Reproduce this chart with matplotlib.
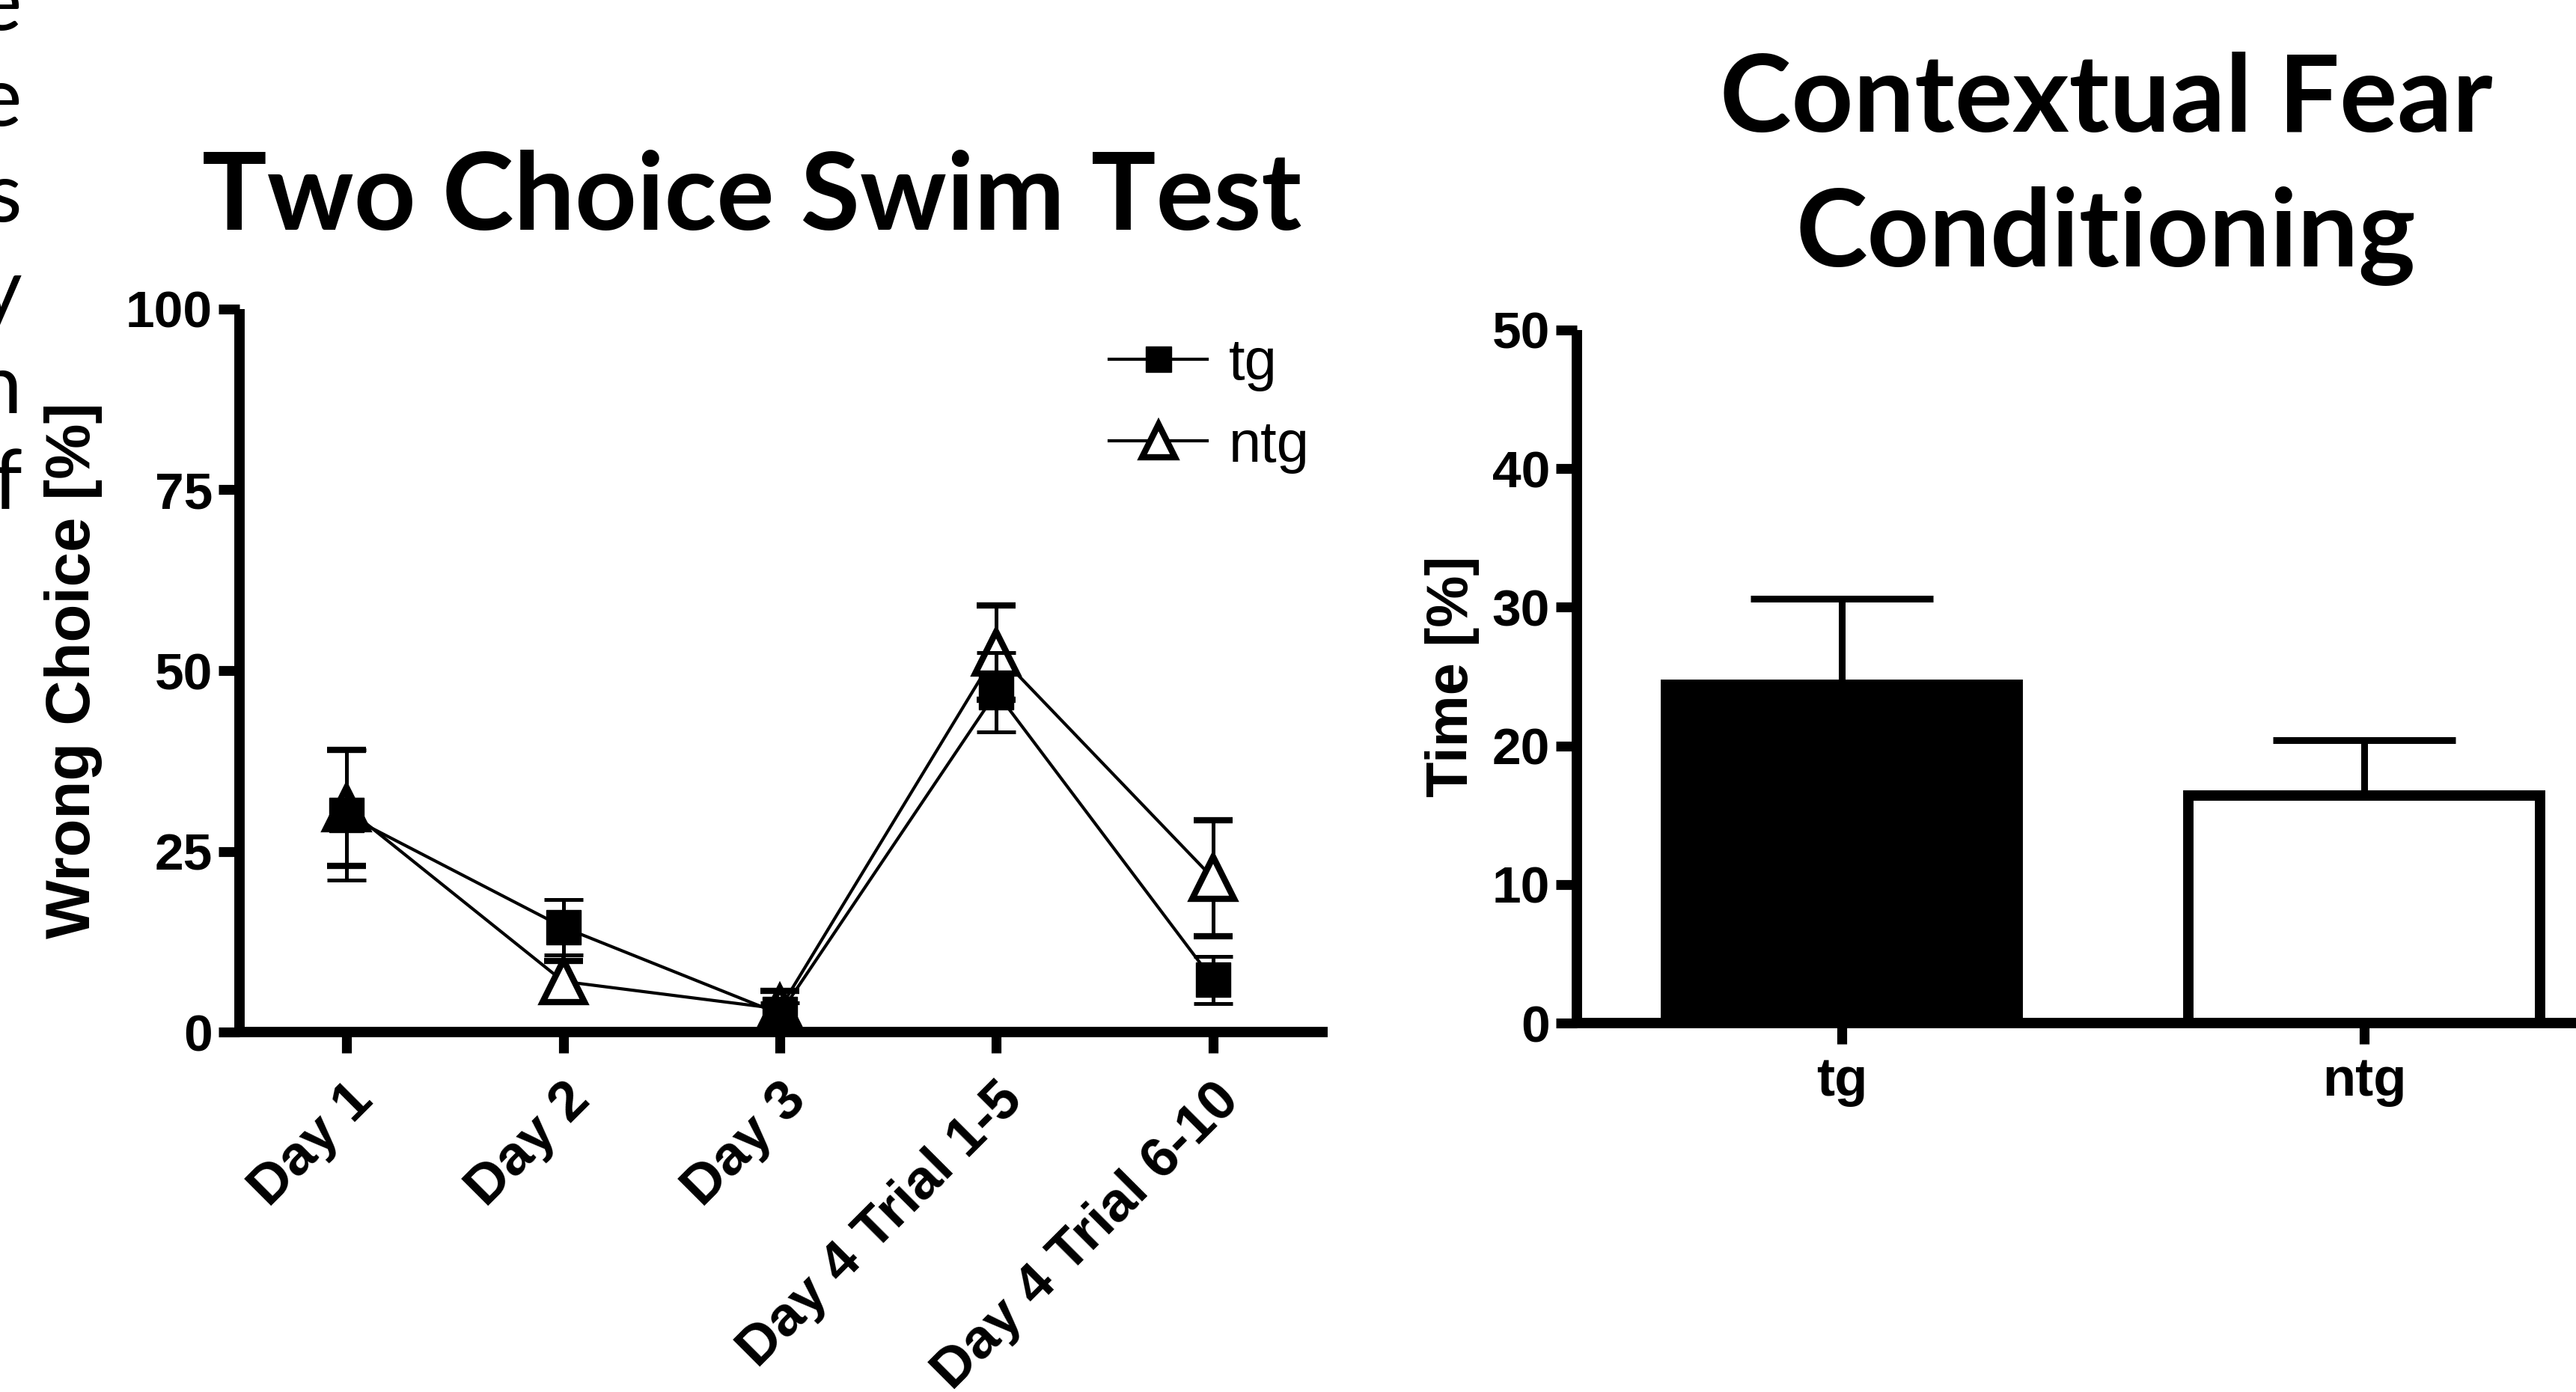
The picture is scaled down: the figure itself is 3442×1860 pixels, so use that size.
import matplotlib
matplotlib.use("Agg")
import matplotlib.pyplot as plt
from matplotlib.lines import Line2D

# ── Data ──
days = ["Day 1", "Day 2", "Day 3", "Day 4 Trial 1-5", "Day 4 Trial 6-10"]
tg_wrong = [30.0, 14.5, 2.5, 47.0, 7.2]
tg_sem = [9.0, 3.8, 1.5, 5.5, 3.3]
ntg_wrong = [31.0, 7.0, 3.2, 52.5, 21.3]
ntg_sem = [8.0, 2.8, 2.5, 6.5, 8.0]

groups = ["tg", "ntg"]
fear_time = [24.4, 16.4]
fear_sem = [6.2, 4.0]

# cut-off words from a neighbouring text column on the left edge
edge_words = ["the", "are", "was", "by", "in", "of"]

W, H = 3442, 1860
BOLD_SANS = ["Liberation Sans", "DejaVu Sans"]
TITLE_FONT = ["Lato", "DejaVu Sans"]
SPINE_W = 10
TICK_W = 9.5
LABEL_FS = 60

plt.rcParams["font.family"] = BOLD_SANS
fig = plt.figure(figsize=(W / 100, H / 100), dpi=100)


def style_axes(ax, xsize, ysize, xpad):
    for side in ("top", "right"):
        ax.spines[side].set_visible(False)
    for side in ("left", "bottom"):
        ax.spines[side].set_linewidth(SPINE_W)
        ax.spines[side].set_capstyle("butt")
    ax.tick_params(width=TICK_W, length=20)
    ax.tick_params(axis="y", labelsize=ysize, pad=6)
    ax.tick_params(axis="x", labelsize=xsize, pad=xpad)
    for lbl in ax.get_xticklabels() + ax.get_yticklabels():
        lbl.set_fontweight("bold")


# ── Left: Two Choice Swim Test ──
ax1 = fig.add_axes([320 / W, 1 - 1379 / H, (1774 - 320) / W, (1379 - 413) / H])
x = list(range(len(days)))
ax1.errorbar(x, ntg_wrong, yerr=ntg_sem, color="black", lw=3.0, elinewidth=3.6,
             capsize=19, capthick=3.6, marker="^", ms=40, mfc="white", mec="black",
             mew=6, clip_on=False, zorder=3, label="ntg")
ax1.errorbar(x, tg_wrong, yerr=tg_sem, color="black", lw=3.0, elinewidth=3.6,
             capsize=19, capthick=3.6, marker="s", ms=33, mfc="black", mec="black",
             clip_on=False, zorder=4, label="tg")
ax1.set_xlim(-0.495, 4.53)
ax1.set_ylim(0, 100)
ax1.set_yticks([0, 25, 50, 75, 100])
ax1.set_xticks(x)
ax1.set_xticklabels(days, rotation=45, ha="right", rotation_mode="anchor")
ax1.set_ylabel("Wrong Choice [%]", fontsize=LABEL_FS, fontweight="bold", labelpad=22)
style_axes(ax1, 54, 50, 20)

handles = [
    Line2D([], [], color="black", lw=3.0, marker="s", ms=25, mfc="black"),
    Line2D([], [], color="black", lw=3.0, marker="^", ms=31, mfc="white", mew=6),
]
fig.legend(handles, groups, loc="upper left",
           bbox_to_anchor=(1482 / W, 1 - 450 / H), bbox_transform=fig.transFigure,
           frameon=False, borderpad=0, borderaxespad=0, handlelength=1.69,
           handletextpad=0.37, labelspacing=0.47,
           prop={"family": BOLD_SANS, "size": 56})

fig.text(1005 / W, 1 - 307 / H, "Two Choice Swim Test", ha="center", va="baseline",
         fontsize=104, fontweight="bold", family=TITLE_FONT)

# ── Right: Contextual Fear Conditioning ──
ax2 = fig.add_axes([2107 / W, 1 - 1367 / H, 1 - 2107 / W, (1367 - 441) / H])
xb = list(range(len(groups)))
ax2.bar(xb, fear_time, width=0.673, color=["black", "white"], edgecolor="black",
        linewidth=10, zorder=2)
ax2.errorbar(xb, fear_time, yerr=[[0, 0], fear_sem], fmt="none", ecolor="black",
             elinewidth=6.5, capsize=88, capthick=6.5, zorder=3)
ax2.set_xlim(-0.507, 1.405)
ax2.set_ylim(0, 50)
ax2.set_yticks([0, 10, 20, 30, 40, 50])
ax2.set_xticks(xb)
ax2.set_xticklabels(groups)
ax2.set_ylabel("Time [%]", fontsize=56, fontweight="bold", labelpad=12)
style_axes(ax2, 52, 50, 12)

fig.text(2814 / W, 1 - 176 / H, "Contextual Fear", ha="center", va="baseline",
         fontsize=104, fontweight="bold", family=TITLE_FONT)
fig.text(2814 / W, 1 - 356 / H, "Conditioning", ha="center", va="baseline",
         fontsize=104, fontweight="bold", family=TITLE_FONT)

# ── Left edge: clipped words ──
for i, word in enumerate(edge_words):
    fig.text(30 / W, 1 - (40 + 128 * i) / H, word, ha="right", va="baseline",
             fontsize=80, family=TITLE_FONT)

fig.savefig("out.png", dpi=100, facecolor="white")
